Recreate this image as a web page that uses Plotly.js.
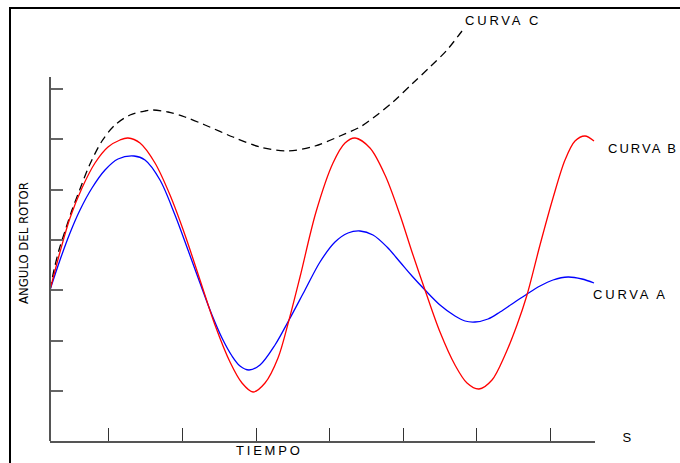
<!DOCTYPE html>
<html>
<head>
<meta charset="utf-8">
<script src="https://cdn.plot.ly/plotly-3.0.1.min.js"></script>
<style>
html, body { margin: 0; padding: 0; background: #fff; }
#chart { position: absolute; left: 0; top: 0; width: 680px; height: 463px; }
#frame { position: absolute; left: 9px; top: 7px; width: 690px; height: 470px;
         border-left: 2px solid #000; border-top: 2px solid #000; pointer-events: none; }
.annotation .annotation-text { letter-spacing: 2.8px; }
.annotation[data-index="1"] .annotation-text { letter-spacing: 2.0px; }
.annotation[data-index="5"] .annotation-text { letter-spacing: 0; }
</style>
</head>
<body>
<div id="chart"></div>
<div id="frame"></div>
<script>
// Tiempo (ms desde la falla) y ángulo del rotor (desviación relativa)
const tiempoA = [0, 10, 20, 30, 42, 55, 68, 84, 95, 110, 125, 138, 150, 162, 172, 182, 190, 199, 210, 225, 239, 255, 270, 285, 298, 310, 323, 337, 350, 362, 375, 390, 405, 415, 425, 438, 450, 462, 477, 490, 503, 518, 532, 544];
const anguloA = [0, 30, 57, 80, 102, 120, 131, 134, 130, 110, 75, 40, 7, -25, -48, -66, -76, -80, -75, -55, -30, 0, 28, 48, 57, 59, 55, 43, 28, 14, 0, -15, -26, -31, -32, -29, -22, -14, -4, 4, 10, 13, 11, 7];

const tiempoB = [0, 10, 20, 32, 45, 58, 70, 78, 90, 105, 120, 135, 150, 165, 180, 192, 203, 215, 228, 239, 250, 266, 283, 295, 305, 320, 335, 350, 362, 375, 390, 405, 417, 429, 442, 455, 467, 477, 490, 503, 515, 525, 535, 544];
const anguloB = [0, 38, 72, 102, 127, 143, 150, 152, 147, 127, 95, 55, 10, -35, -72, -93, -102, -93, -68, -30, 13, 78, 127, 147, 152, 142, 115, 75, 38, 0, -42, -75, -93, -99, -90, -65, -35, -5, 45, 92, 130, 149, 154, 149];

const tiempoC = [0, 4, 9, 15, 22, 30, 40, 52, 65, 80, 95, 103, 118, 135, 155, 183, 210, 238, 265, 290, 310, 323, 343, 363, 380, 397, 412];
const anguloC = [0, 20, 40, 59, 80, 101, 126, 149, 165, 175, 179, 180, 178, 173, 165, 153, 143, 139, 144, 154, 163, 172, 188, 207, 223, 240, 259];

const xTicks = [58, 132, 206, 279, 353, 426, 500];
const yTicks = [-101, -51, 0, 50, 100, 151, 201];
const nombres = ["CURVA A", "CURVA B", "CURVA C"];

const textFont = { family: "Liberation Sans, Arial, sans-serif", size: 13, color: "#000" };

const traces = [
  { x: tiempoC, y: anguloC, name: nombres[2], mode: "lines",
    line: { color: "#000", width: 1.3, dash: "8px,5px", shape: "spline", smoothing: 0.9 } },
  { x: tiempoA, y: anguloA, name: nombres[0], mode: "lines",
    line: { color: "#0000ff", width: 1.3, shape: "spline", smoothing: 0.9 } },
  { x: tiempoB, y: anguloB, name: nombres[1], mode: "lines",
    line: { color: "#ff0000", width: 1.3, shape: "spline", smoothing: 0.9 } }
];

const layout = {
  width: 680, height: 463,
  margin: { l: 50, r: 85, t: 25, b: 22, pad: 0 },
  paper_bgcolor: "rgba(0,0,0,0)", plot_bgcolor: "rgba(0,0,0,0)",
  showlegend: false,
  xaxis: {
    range: [0, 545], showgrid: false, zeroline: false,
    showline: true, linecolor: "#555", linewidth: 2,
    ticks: "inside", ticklen: 13, tickwidth: 1, tickcolor: "#333",
    tickmode: "array", tickvals: xTicks, showticklabels: false
  },
  yaxis: {
    range: [-151, 265], showgrid: false, zeroline: false, showline: false,
    ticks: "inside", ticklen: 13, tickwidth: 1.5, tickcolor: "#666",
    tickmode: "array", tickvals: yTicks, showticklabels: false
  },
  shapes: [
    { type: "line", xref: "paper", yref: "y", x0: 0, x1: 0, y0: -151, y1: 213,
      line: { color: "#555", width: 2 } }
  ],
  annotations: [
    { text: nombres[2], xref: "paper", yref: "paper", x: 0.758, y: 1.012, xanchor: "left", yanchor: "middle", align: "left", showarrow: false, font: textFont },
    { text: nombres[1], xref: "paper", yref: "paper", x: 1.02, y: 0.7043, xanchor: "left", yanchor: "middle", align: "left", showarrow: false, font: textFont },
    { text: nombres[0], xref: "paper", yref: "paper", x: 0.9925, y: 0.351, xanchor: "left", yanchor: "middle", align: "left", showarrow: false, font: textFont },
    { text: "TIEMPO", xref: "paper", yref: "paper", x: 0.3375, y: -0.024, xanchor: "left", yanchor: "middle", align: "left", showarrow: false, font: textFont },
    { text: "S", xref: "paper", yref: "paper", x: 1.0606, y: 0.0096, xanchor: "center", yanchor: "middle", showarrow: false, font: textFont },
    { text: "ANGULO DEL ROTOR", xref: "paper", yref: "paper", x: -0.0477, y: 0.476, xanchor: "center", yanchor: "middle", textangle: -90, showarrow: false,
      font: { family: "DejaVu Sans Condensed, Liberation Sans Narrow, Liberation Sans, sans-serif", size: 13, color: "#000" } }
  ]
};

Plotly.newPlot("chart", traces, layout, { staticPlot: true, displayModeBar: false });
</script>
</body>
</html>
